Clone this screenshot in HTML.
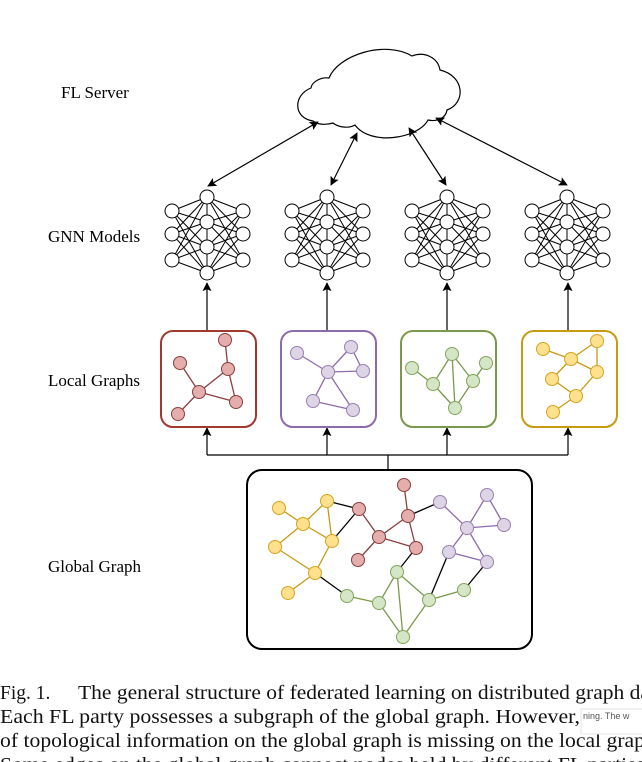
<!DOCTYPE html>
<html><head><meta charset="utf-8"><style>
html,body{margin:0;padding:0;background:#fff;}
svg{display:block;}
</style></head><body>
<svg width="642" height="762" viewBox="0 0 642 762" xmlns="http://www.w3.org/2000/svg">
<defs>
<marker id="ah" viewBox="0 0 10 10" refX="9" refY="5" markerWidth="9" markerHeight="9" orient="auto-start-reverse" markerUnits="userSpaceOnUse">
<path d="M0,0 L10,5 L0,10 L2,5 Z" fill="#000"/>
</marker>
<g id="nn">
<g stroke="#000" stroke-width="1">
<line x1="172" y1="211" x2="207" y2="197"/><line x1="172" y1="211" x2="207" y2="222"/><line x1="172" y1="211" x2="207" y2="247"/><line x1="172" y1="211" x2="207" y2="273"/>
<line x1="172" y1="234" x2="207" y2="197"/><line x1="172" y1="234" x2="207" y2="222"/><line x1="172" y1="234" x2="207" y2="247"/><line x1="172" y1="234" x2="207" y2="273"/>
<line x1="172" y1="260" x2="207" y2="197"/><line x1="172" y1="260" x2="207" y2="222"/><line x1="172" y1="260" x2="207" y2="247"/><line x1="172" y1="260" x2="207" y2="273"/>
<line x1="243" y1="211" x2="207" y2="197"/><line x1="243" y1="211" x2="207" y2="222"/><line x1="243" y1="211" x2="207" y2="247"/><line x1="243" y1="211" x2="207" y2="273"/>
<line x1="243" y1="234" x2="207" y2="197"/><line x1="243" y1="234" x2="207" y2="222"/><line x1="243" y1="234" x2="207" y2="247"/><line x1="243" y1="234" x2="207" y2="273"/>
<line x1="243" y1="260" x2="207" y2="197"/><line x1="243" y1="260" x2="207" y2="222"/><line x1="243" y1="260" x2="207" y2="247"/><line x1="243" y1="260" x2="207" y2="273"/>
<line x1="207" y1="197" x2="207" y2="273"/>
</g>
<g fill="#fff" stroke="#000" stroke-width="1">
<circle cx="172" cy="211" r="7"/><circle cx="172" cy="234" r="7"/><circle cx="172" cy="260" r="7"/>
<circle cx="207" cy="197" r="7"/><circle cx="207" cy="222" r="7"/><circle cx="207" cy="247" r="7"/><circle cx="207" cy="273" r="7"/>
<circle cx="243" cy="211" r="7"/><circle cx="243" cy="234" r="7"/><circle cx="243" cy="260" r="7"/>
</g>
</g>
</defs>

<g font-family="Liberation Serif, serif" font-size="17" fill="#000">
<text x="61" y="98">FL Server</text>
<text x="48" y="242">GNN Models</text>
<text x="48" y="386">Local Graphs</text>
<text x="48" y="572">Global Graph</text>
</g>

<path d="M313,121 C293,118 293,95 311,88 C312,81 322,77 329,78 C338,55 385,40 412,56 C425,51 438,58 440,70 C465,76 466,103 447,110 C446,118 437,122 428,120 C418,139 370,146 355,125 C348,129 338,127 333,123 C326,125 318,125 313,121 Z" fill="#fff" stroke="#000" stroke-width="1.2"/>

<g stroke="#000" stroke-width="1.2" fill="none" marker-start="url(#ah)" marker-end="url(#ah)">
<line x1="318" y1="122" x2="208" y2="186"/>
<line x1="357" y1="133" x2="331" y2="185"/>
<line x1="409" y1="128" x2="446" y2="185"/>
<line x1="436" y1="118" x2="567" y2="185"/>
</g>

<use href="#nn"/>
<use href="#nn" transform="translate(120,0)"/>
<use href="#nn" transform="translate(240,0)"/>
<use href="#nn" transform="translate(360,0)"/>

<g stroke="#000" stroke-width="1.2" marker-end="url(#ah)">
<line x1="207" y1="331" x2="207" y2="283"/>
<line x1="327" y1="331" x2="327" y2="283"/>
<line x1="447" y1="331" x2="447" y2="283"/>
<line x1="568" y1="331" x2="568" y2="283"/>
</g>

<g stroke="#000" stroke-width="1.2" fill="none">
<polyline points="388,470 388,455"/>
<line x1="207" y1="455" x2="568" y2="455"/>
</g>
<g stroke="#000" stroke-width="1.2" marker-end="url(#ah)">
<line x1="207" y1="455" x2="207" y2="428"/>
<line x1="327" y1="455" x2="327" y2="428"/>
<line x1="447" y1="455" x2="447" y2="428"/>
<line x1="568" y1="455" x2="568" y2="428"/>
</g>

<rect x="161" y="331" width="95" height="96" rx="12" fill="#fff" stroke="#a0392f" stroke-width="2"/>
<rect x="281" y="331" width="95" height="96" rx="12" fill="#fff" stroke="#8d6bab" stroke-width="2"/>
<rect x="401" y="331" width="95" height="96" rx="12" fill="#fff" stroke="#7a9a4a" stroke-width="2"/>
<rect x="522" y="331" width="95" height="96" rx="12" fill="#fff" stroke="#c99a10" stroke-width="2"/>

<g stroke="#8b3f3f" stroke-width="1.3">
<line x1="225" y1="340" x2="228" y2="369"/><line x1="180" y1="363" x2="199" y2="392"/><line x1="199" y1="392" x2="228" y2="369"/><line x1="199" y1="392" x2="236" y2="402"/><line x1="228" y1="369" x2="236" y2="402"/><line x1="199" y1="392" x2="178" y2="414"/>
</g>
<g fill="#e3aeab" stroke="#8b3f3f" stroke-width="1">
<circle cx="225" cy="340" r="6.5"/><circle cx="180" cy="363" r="6.5"/><circle cx="228" cy="369" r="6.5"/><circle cx="199" cy="392" r="6.5"/><circle cx="236" cy="402" r="6.5"/><circle cx="178" cy="414" r="6.5"/>
</g>
<g stroke="#8d6bab" stroke-width="1.3">
<line x1="297" y1="353" x2="328" y2="372"/><line x1="328" y1="372" x2="351" y2="347"/><line x1="351" y1="347" x2="363" y2="371"/><line x1="328" y1="372" x2="363" y2="371"/><line x1="328" y1="372" x2="313" y2="401"/><line x1="328" y1="372" x2="353" y2="410"/><line x1="313" y1="401" x2="353" y2="410"/>
</g>
<g fill="#ddd4e6" stroke="#9a80b5" stroke-width="1">
<circle cx="297" cy="353" r="6.5"/><circle cx="351" cy="347" r="6.5"/><circle cx="328" cy="372" r="6.5"/><circle cx="363" cy="371" r="6.5"/><circle cx="313" cy="401" r="6.5"/><circle cx="353" cy="410" r="6.5"/>
</g>
<g stroke="#7a9a4a" stroke-width="1.3">
<line x1="412" y1="368" x2="433" y2="384"/><line x1="433" y1="384" x2="452" y2="354"/><line x1="452" y1="354" x2="473" y2="381"/><line x1="452" y1="354" x2="455" y2="408"/><line x1="473" y1="381" x2="486" y2="363"/><line x1="433" y1="384" x2="455" y2="408"/><line x1="473" y1="381" x2="455" y2="408"/>
</g>
<g fill="#d5e6c6" stroke="#82a55a" stroke-width="1">
<circle cx="412" cy="368" r="6.5"/><circle cx="452" cy="354" r="6.5"/><circle cx="486" cy="363" r="6.5"/><circle cx="433" cy="384" r="6.5"/><circle cx="473" cy="381" r="6.5"/><circle cx="455" cy="408" r="6.5"/>
</g>
<g stroke="#c99a10" stroke-width="1.3">
<line x1="543" y1="349" x2="571" y2="359"/><line x1="571" y1="359" x2="597" y2="341"/><line x1="597" y1="341" x2="597" y2="372"/><line x1="571" y1="359" x2="597" y2="372"/><line x1="571" y1="359" x2="552" y2="379"/><line x1="552" y1="379" x2="576" y2="396"/><line x1="597" y1="372" x2="576" y2="396"/><line x1="576" y1="396" x2="553" y2="412"/>
</g>
<g fill="#ffe08c" stroke="#d4a520" stroke-width="1">
<circle cx="543" cy="349" r="6.5"/><circle cx="597" cy="341" r="6.5"/><circle cx="571" cy="359" r="6.5"/><circle cx="552" cy="379" r="6.5"/><circle cx="597" cy="372" r="6.5"/><circle cx="576" cy="396" r="6.5"/><circle cx="553" cy="412" r="6.5"/>
</g>

<rect x="247" y="470" width="285" height="179" rx="15" fill="#fff" stroke="#000" stroke-width="2"/>
<g stroke-width="1.3">
<g stroke="#c99a10">
<line x1="279" y1="508" x2="303" y2="524"/><line x1="303" y1="524" x2="327" y2="501"/><line x1="303" y1="524" x2="332" y2="541"/><line x1="327" y1="501" x2="332" y2="541"/><line x1="303" y1="524" x2="275" y2="547"/><line x1="275" y1="547" x2="315" y2="573"/><line x1="332" y1="541" x2="315" y2="573"/><line x1="315" y1="573" x2="288" y2="593"/>
</g>
<g stroke="#000">
<line x1="327" y1="501" x2="359" y2="509"/><line x1="332" y1="541" x2="359" y2="509"/><line x1="315" y1="573" x2="347" y2="596"/><line x1="408" y1="516" x2="440" y2="502"/><line x1="416" y1="548" x2="397" y2="572"/><line x1="449" y1="552" x2="429" y2="600"/><line x1="487" y1="562" x2="464" y2="590"/>
</g>
<g stroke="#8b3f3f">
<line x1="404" y1="485" x2="408" y2="516"/><line x1="359" y1="509" x2="379" y2="537"/><line x1="379" y1="537" x2="408" y2="516"/><line x1="408" y1="516" x2="416" y2="548"/><line x1="379" y1="537" x2="416" y2="548"/><line x1="379" y1="537" x2="358" y2="560"/>
</g>
<g stroke="#8d6bab">
<line x1="440" y1="502" x2="467" y2="528"/><line x1="487" y1="495" x2="467" y2="528"/><line x1="487" y1="495" x2="504" y2="525"/><line x1="467" y1="528" x2="504" y2="525"/><line x1="467" y1="528" x2="449" y2="552"/><line x1="467" y1="528" x2="487" y2="562"/><line x1="449" y1="552" x2="487" y2="562"/>
</g>
<g stroke="#7a9a4a">
<line x1="347" y1="596" x2="379" y2="603"/><line x1="379" y1="603" x2="397" y2="572"/><line x1="397" y1="572" x2="429" y2="600"/><line x1="397" y1="572" x2="403" y2="637"/><line x1="379" y1="603" x2="403" y2="637"/><line x1="403" y1="637" x2="429" y2="600"/><line x1="429" y1="600" x2="464" y2="590"/>
</g>
</g>
<g stroke-width="1">
<g fill="#ffe08c" stroke="#d4a520">
<circle cx="279" cy="508" r="6.5"/><circle cx="327" cy="501" r="6.5"/><circle cx="303" cy="524" r="6.5"/><circle cx="332" cy="541" r="6.5"/><circle cx="275" cy="547" r="6.5"/><circle cx="315" cy="573" r="6.5"/><circle cx="288" cy="593" r="6.5"/>
</g>
<g fill="#e3aeab" stroke="#8b3f3f">
<circle cx="404" cy="485" r="6.5"/><circle cx="359" cy="509" r="6.5"/><circle cx="408" cy="516" r="6.5"/><circle cx="379" cy="537" r="6.5"/><circle cx="416" cy="548" r="6.5"/><circle cx="358" cy="560" r="6.5"/>
</g>
<g fill="#ddd4e6" stroke="#9a80b5">
<circle cx="440" cy="502" r="6.5"/><circle cx="487" cy="495" r="6.5"/><circle cx="467" cy="528" r="6.5"/><circle cx="504" cy="525" r="6.5"/><circle cx="449" cy="552" r="6.5"/><circle cx="487" cy="562" r="6.5"/>
</g>
<g fill="#d5e6c6" stroke="#82a55a">
<circle cx="397" cy="572" r="6.5"/><circle cx="347" cy="596" r="6.5"/><circle cx="379" cy="603" r="6.5"/><circle cx="429" cy="600" r="6.5"/><circle cx="464" cy="590" r="6.5"/><circle cx="403" cy="637" r="6.5"/>
</g>
</g>

<g font-family="Liberation Serif, serif" font-size="19.5" fill="#111">
<text x="0" y="699">Fig. 1.</text>
<text x="78" y="699" textLength="572" lengthAdjust="spacingAndGlyphs">The general structure of federated learning on distributed graph da</text>
<text x="0" y="723" textLength="580" lengthAdjust="spacingAndGlyphs">Each FL party possesses a subgraph of the global graph. However,</text>
<text x="0" y="747" textLength="645" lengthAdjust="spacingAndGlyphs">of topological information on the global graph is missing on the local grap</text>
<text x="0" y="771" textLength="645" lengthAdjust="spacingAndGlyphs">Some edges on the global graph connect nodes held by different FL parties</text>
</g>
<rect x="581" y="709" width="62" height="25" fill="#fff" stroke="#e4e4e4"/>
<text x="583" y="719" font-family="Liberation Sans, sans-serif" font-size="9" fill="#555">ning. The w</text>
</svg>
</body></html>
